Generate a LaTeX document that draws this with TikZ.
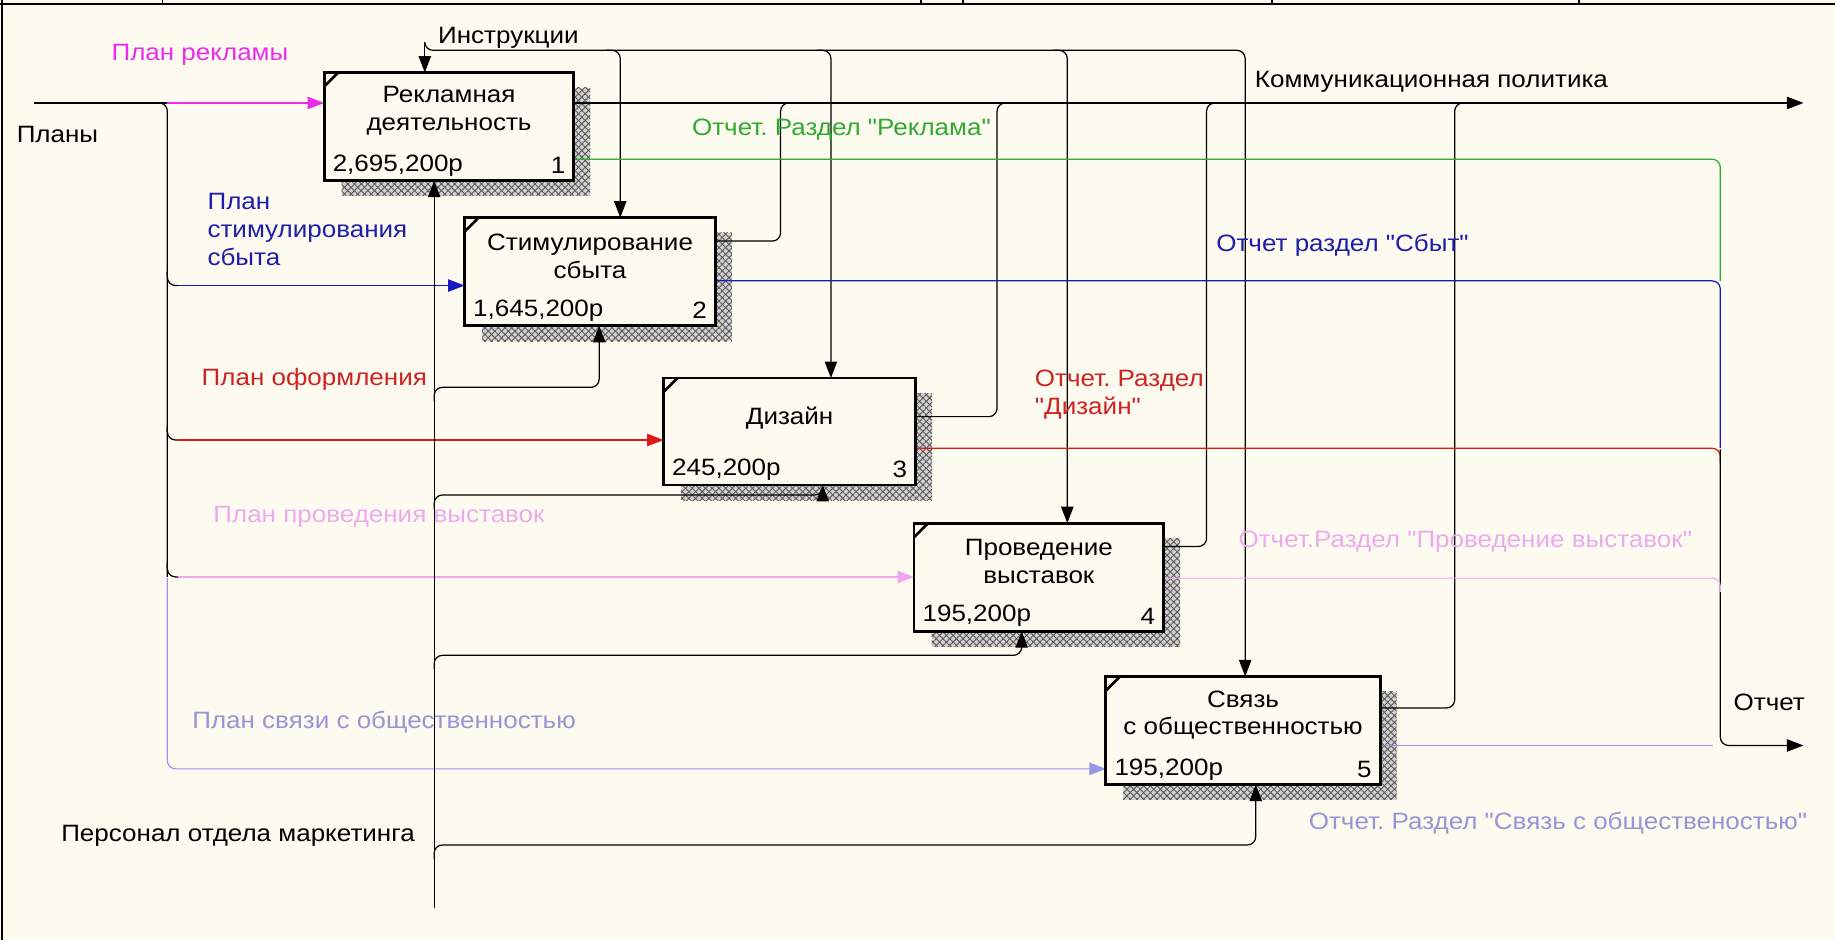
\documentclass[tikz,border=0pt]{standalone}
\usepackage{fontspec}
\setmainfont{Liberation Sans}[FakeStretch=1.1, Ligatures=TeXOff]
\usetikzlibrary{arrows.meta,calc,patterns.meta}
\frenchspacing

\definecolor{paper}{RGB}{253,251,240}
\definecolor{cMag}{RGB}{235,45,235}
\definecolor{cBlue}{RGB}{25,25,195}
\definecolor{cBlueT}{RGB}{30,30,170}
\definecolor{cRed}{RGB}{225,25,25}
\definecolor{cRedT}{RGB}{205,35,35}
\definecolor{cPink}{RGB}{240,165,240}
\definecolor{cPinkT}{RGB}{238,170,238}
\definecolor{cLav}{RGB}{150,150,235}
\definecolor{cLavT}{RGB}{150,150,215}
\definecolor{cGreen}{RGB}{50,170,50}

\tikzset{
  wire/.style={line width=0.6pt},
  tip/.style={-{Triangle[length=8pt,width=6pt]}},
  rcorner/.style={rounded corners=4pt},
  procbox/.style={draw, line width=1.4pt, fill=paper, anchor=north west,
    inner sep=0pt, minimum height=1.8cm},
  boxtitle/.style={align=center, inner sep=0pt},
  lbl/.style={inner sep=0pt, anchor=west, align=left},
}

% hatched drop shadow behind a box
\newcommand{\dropshade}[1]{%
  \fill[black!18] ($(#1.north west)+(15,13)$) rectangle ($(#1.south east)+(14,13)$);
  \fill[pattern={Lines[angle=45,distance=2.3pt,line width=0.45pt]}, pattern color=black!65]
    ($(#1.north west)+(15,13)$) rectangle ($(#1.south east)+(14,13)$);
  \fill[pattern={Lines[angle=-45,distance=2.3pt,line width=0.45pt]}, pattern color=black!65]
    ($(#1.north west)+(15,13)$) rectangle ($(#1.south east)+(14,13)$);}
% corner tick of an activity box
\newcommand{\cornertick}[1]{%
  \draw[line width=1.3pt] ($(#1.north west)+(0,12)$) -- ($(#1.north west)+(12,0)$);}

\begin{document}
\begin{tikzpicture}[x=0.02cm, y=-0.02cm, font=\fontsize{11.5pt}{13.5pt}\selectfont]
\useasboundingbox (0,0) rectangle (1568,803);
\fill[paper] (0,0) rectangle (1568,803);

% frame
\draw[line width=1pt] (0,3.4) -- (1568,3.4);
\draw[line width=1pt] (1.5,0) -- (1.5,803);
\foreach \xx in {139,787,823,1087,1349} \draw[line width=0.8pt] (\xx,0) -- (\xx,3.4);

% activity boxes (placed first so anchors exist; redrawn on top later)
\path (277,62)  node[procbox, minimum width=4.22cm] (b1) {};
\path (397,186) node[procbox, minimum width=4.24cm] (b2) {};
\path (567,323) node[procbox, minimum width=4.26cm, minimum height=1.78cm] (b3) {};
\path (781,447) node[procbox, minimum width=4.22cm] (b4) {};
\path (945,578) node[procbox, minimum width=4.64cm] (b5) {};

\dropshade{b1}\dropshade{b2}\dropshade{b3}\dropshade{b4}\dropshade{b5}

% ---------- inputs: Планы ----------
\coordinate (pin) at (29,88);
\coordinate (pj)  at (143,88);
\coordinate (pb2) at (143,244);
\coordinate (pb3) at (143,376);
\coordinate (pb4) at (143,493);
\coordinate (pb5) at (143,657);

\draw[wire] (pin) -- (pj);
\draw[wire, cMag, tip] (pj) -- (pj -| b1.west);
\draw[wire, rcorner] ($(pj)+(-12,0)$) -- (pj) -- (pb4);
\draw[wire, rcorner] ($(pb2)+(0,-12)$) -- (pb2) -- ($(pb2)+(9,0)$);
\draw[wire, cBlue, tip] ($(pb2)+(9,0)$) -- (pb2 -| b2.west);
\draw[wire, rcorner] ($(pb3)+(0,-12)$) -- (pb3) -- ($(pb3)+(9,0)$);
\draw[wire, cRed, tip] ($(pb3)+(9,0)$) -- (pb3 -| b3.west);
\draw[wire, rcorner] ($(pb4)+(0,-12)$) -- (pb4) -- ($(pb4)+(9,0)$);
\draw[wire, cPink, tip] ($(pb4)+(9,0)$) -- (pb4 -| b4.west);
\draw[wire, cLav, rcorner, tip] ($(pb4)+(0,1)$) -- (pb5) -- (pb5 -| b5.west);

% ---------- mechanism: Персонал отдела маркетинга ----------
\coordinate (mbot) at (371,776);
\coordinate (m2) at (371,331);
\coordinate (m3) at (371,423);
\coordinate (m4) at (371,560);
\coordinate (m5) at (371,722);
\coordinate (b2m) at ($(b2.south west)+(115,0)$);
\coordinate (b3m) at ($(b3.south west)+(136,0)$);
\coordinate (b4m) at ($(b4.south west)+(92,0)$);
\coordinate (b5m) at ($(b5.south west)+(128,0)$);

\draw[wire, tip] (mbot) -- (mbot |- b1.south);
\draw[wire, rcorner, tip] ($(m2)+(0,12)$) -- (m2) -- (m2 -| b2m) -- (b2m);
\draw[wire, rcorner, tip] ($(m3)+(0,12)$) -- (m3) -- (m3 -| b3m) -- (b3m);
\draw[wire, rcorner, tip] ($(m4)+(0,12)$) -- (m4) -- (m4 -| b4m) -- (b4m);
\draw[wire, rcorner, tip] ($(m5)+(0,12)$) -- (m5) -- (m5 -| b5m) -- (b5m);

% ---------- control: Инструкции ----------
\coordinate (ctop) at (363,37);
\coordinate (cl)   at (363,43);
\coordinate (b1c) at ($(b1.north west)+(86,0)$);
\coordinate (b2c) at ($(b2.north west)+(133,0)$);
\coordinate (b3c) at ($(b3.north west)+(143,0)$);
\coordinate (b4c) at ($(b4.north west)+(131,0)$);
\coordinate (b5c) at ($(b5.north west)+(119,0)$);

\draw[wire, tip] (ctop) -- (b1c);
\draw[wire, rcorner, tip] (ctop) -- (cl) -- (cl -| b5c) -- (b5c);
\draw[wire, rcorner, tip] ($(cl -| b2c)+(-12,0)$) -- (cl -| b2c) -- (b2c);
\draw[wire, rcorner, tip] ($(cl -| b3c)+(-12,0)$) -- (cl -| b3c) -- (b3c);
\draw[wire, rcorner, tip] ($(cl -| b4c)+(-12,0)$) -- (cl -| b4c) -- (b4c);

% ---------- output: Коммуникационная политика ----------
\coordinate (kp) at (1541,88);
\coordinate (o2) at (667,206);
\coordinate (o3) at (852,356);
\coordinate (o4) at (1031,467);
\coordinate (o5) at (1243,605);

\draw[wire, tip] (kp -| b1.east) -- (kp);
\draw[wire, rcorner] (o2 -| b2.east) -- (o2) -- (o2 |- kp) -- ($(o2 |- kp)+(12,0)$);
\draw[wire, rcorner] (o3 -| b3.east) -- (o3) -- (o3 |- kp) -- ($(o3 |- kp)+(12,0)$);
\draw[wire, rcorner] (o4 -| b4.east) -- (o4) -- (o4 |- kp) -- ($(o4 |- kp)+(12,0)$);
\draw[wire, rcorner] (o5 -| b5.east) -- (o5) -- (o5 |- kp) -- ($(o5 |- kp)+(12,0)$);

% ---------- output: Отчет ----------
\coordinate (g1) at (1470,136);
\coordinate (g2) at (1470,240);
\coordinate (g3) at (1470,383);
\coordinate (g4) at (1470,494);
\coordinate (g5) at (1470,637);
\coordinate (rp) at (1541,637);

\draw[wire, cGreen, rcorner] (g1 -| b1.east) -- (g1) -- (g2);
\draw[wire, cBlue, rcorner] (g2 -| b2.east) -- (g2) -- (g3);
\draw[wire, cRed, rcorner] (g3 -| b3.east) -- (g3) -- ($(g3)+(0,12)$);
\draw[wire, rcorner, tip] ($(g3)+(0,1)$) -- (g5) -- (rp);
\draw[wire, cPink, rcorner] (g4 -| b4.east) -- (g4) -- ($(g4)+(0,12)$);
\draw[wire, cLav] (g5 -| b5.east) -- ($(g5)+(-6,0)$);

% ---------- boxes on top ----------
\foreach \b in {b1,b2,b3,b4,b5} {
  \draw[line width=1.4pt, fill=paper] (\b.north west) rectangle (\b.south east);
  \cornertick{\b}
}

\node[boxtitle] (t1) at ($(b1.north)+(0,32.5)$) {Рекламная\\деятельность};
\node[boxtitle] (t2) at ($(b2.north)+(0,33)$) {Стимулирование\\сбыта};
\node[boxtitle] (t3) at ($(b3.north)+(0,34)$) {Дизайн};
\node[boxtitle] (t4) at ($(b4.north)+(0,33)$) {Проведение\\выставок};
\node[boxtitle] (t5) at ($(b5.north)+(0,33)$) {Связь\\с общественностью};

\node[lbl] (c1) at ($(b1.south west)+(7,-13)$) {2,695,200р};
\node[lbl] (c2) at ($(b2.south west)+(7,-13)$) {1,645,200р};
\node[lbl] (c3) at ($(b3.south west)+(7,-13)$) {245,200р};
\node[lbl] (c4) at ($(b4.south west)+(7,-13)$) {195,200р};
\node[lbl] (c5) at ($(b5.south west)+(7,-13)$) {195,200р};
\node[lbl, anchor=east] (n1) at ($(b1.south east)+(-7,-13)$) {1};
\node[lbl, anchor=east] (n2) at ($(b2.south east)+(-7,-13)$) {2};
\node[lbl, anchor=east] (n3) at ($(b3.south east)+(-7,-13)$) {3};
\node[lbl, anchor=east] (n4) at ($(b4.south east)+(-7,-13)$) {4};
\node[lbl, anchor=east] (n5) at ($(b5.south east)+(-7,-13)$) {5};

% ---------- arrow labels ----------
\node[lbl] (lPlany) at (14,115) {Планы};
\node[lbl, text=cMag] (lPR) at (95,47) {План рекламы};
\node[lbl] (lInstr) at (374,32) {Инструкции};
\node[lbl] (lKP) at (1072,70) {Коммуникационная политика};
\node[lbl, text=cGreen] (lOR) at (591,111) {Отчет. Раздел "Реклама"};
\node[lbl, text=cBlueT] (lPS) at (177,196) {План\\стимулирования\\сбыта};
\node[lbl, text=cBlueT] (lOS) at (1039,210) {Отчет раздел "Сбыт"};
\node[lbl, text=cRedT] (lPO) at (172,324) {План оформления};
\node[lbl, text=cRedT] (lOD) at (884,337) {Отчет. Раздел\\"Дизайн"};
\node[lbl, text=cPinkT] (lPV) at (182,442) {План проведения выставок};
\node[lbl, text=cPinkT] (lOV) at (1058,463) {Отчет.Раздел "Проведение выставок"};
\node[lbl, text=cLavT] (lPC) at (164,617) {План связи с общественностью};
\node[lbl] (lOt) at (1481,600) {Отчет};
\node[lbl, text=cLavT] (lOC) at (1118,703) {Отчет. Раздел "Связь с общественостью"};
\node[lbl] (lPers) at (52,714) {Персонал отдела маркетинга};
\end{tikzpicture}
\end{document}
